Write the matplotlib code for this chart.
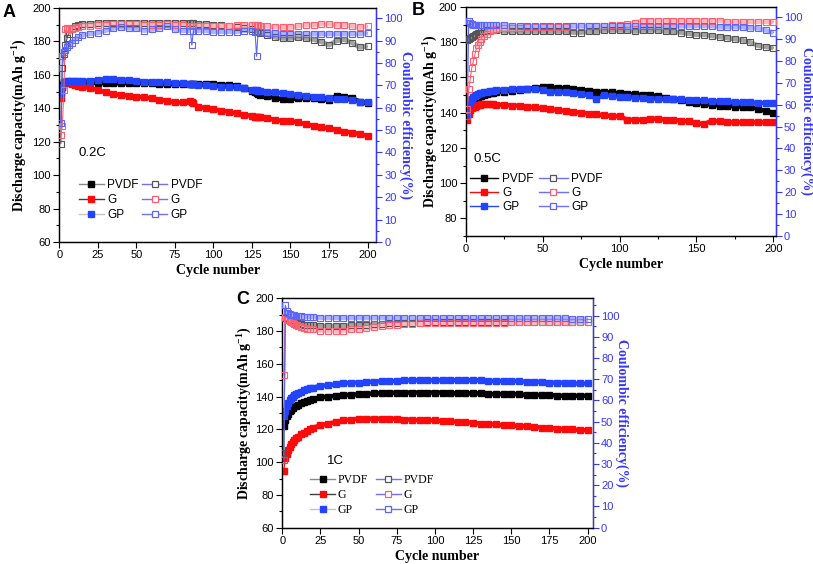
import numpy as np
import matplotlib
matplotlib.use("Agg")
import matplotlib.pyplot as plt
from matplotlib.lines import Line2D
from matplotlib.ticker import MultipleLocator

plt.rcParams["font.family"] = ["Liberation Sans", "DejaVu Sans"]
plt.rcParams["mathtext.fontset"] = "custom"
plt.rcParams["mathtext.rm"] = "Liberation Serif"
plt.rcParams["mathtext.bf"] = "Liberation Serif:bold"
plt.rcParams["mathtext.default"] = "bf"

# %% data, panel A (0.2C)
cyc_a = [1, 2, 3, 4, 5, 6, 8, 10, 12, 15,
         20, 25, 30, 35, 40, 45, 50, 55, 60, 65, 70, 75, 80, 85,
         86, 87,
         90, 95, 100, 105, 110, 115, 120, 125,
         127, 128, 129,
         130, 135, 140, 145, 150, 155, 160, 165, 170, 175, 180, 185, 190, 195, 200]

cap_a_pvdf = [150, 154, 155, 155.5, 155.5, 155.5, 155.5, 155.5, 155.5, 155.5,
              155.5, 155, 155, 155, 155, 155, 155, 155, 155, 154.5, 154.5, 154.5, 154.5, 154.5,
              154.5, 154.5,
              154.5, 154.5, 154.5, 154, 154, 153.5, 152, 150.5,
              149.5, 149, 148.5,
              148, 147.5, 146, 145.5, 145.5, 146, 146, 146, 145.5, 145, 147.5, 147, 146, 144, 143]
cap_a_g = [146, 153, 155.5, 155.5, 155, 155, 154.5, 154, 153.5, 153,
           152, 151, 149.5, 148.5, 148, 147.5, 147, 146.5, 146, 145, 144.5, 143.5, 143.5, 144.5,
           144, 143,
           141, 140, 139.5, 138.5, 138, 137, 136, 135.5,
           135, 135, 135,
           134.5, 134, 133, 132.5, 132.5, 131.5, 130.5, 129.5, 128.5, 128, 127, 126, 125.5, 124.5, 123.5]
cap_a_gp = [149, 153, 155.5, 156, 156.5, 156.5, 156.5, 156.5, 156.5, 156.5,
            156.5, 157, 157.5, 157.5, 157, 157, 156.5, 156, 156, 155.5, 155.5, 155, 155, 154.5,
            154.5, 154.5,
            154, 154, 153.5, 153, 153, 152.5, 152, 151,
            151, 151, 150.5,
            150.5, 150, 149.5, 149, 148.5, 148, 147.5, 147, 146.5, 146, 145.5, 145.5, 145, 144, 143.5]
ce_a_pvdf = [44, 78, 84, 88, 91, 93, 95, 96.5, 97, 97.5,
             97.5, 98, 98, 98, 98, 98, 98, 98, 98, 98, 98, 98, 98, 98,
             98, 98,
             97.5, 97.5, 97, 97, 96.5, 96, 95.5, 95,
             94.5, 94.5, 94,
             93.5, 92.5, 91.5, 91, 91, 91.5, 91, 90.5, 89.5, 88, 90, 90.5, 89, 87, 87.5]
ce_a_g = [48, 52, 68, 95, 95.5, 95.5, 95, 95.5, 96, 96.5,
          96.5, 97, 97, 97.5, 97.5, 97.5, 97.5, 97, 97, 97, 97.5, 97, 97, 96.5,
          96.5, 96.5,
          96.5, 96.5, 96.5, 96.5, 96.5, 97, 97, 97,
          97, 97, 97,
          96.5, 96.5, 96, 96, 96, 96.5, 97, 97, 97.5, 97.5, 97, 97, 96.5, 96, 96.5]
ce_a_gp = [53, 83, 85, 86, 87, 88, 89, 90.5, 91.5, 92.5,
           93, 93.5, 94.5, 95.5, 96, 95.5, 95.5, 94.5, 95, 95.5, 96.5, 95, 94.5, 94.5,
           88, 94.5,
           94.5, 94.5, 94, 94, 94, 94, 94.5, 94.5,
           94, 83, 94,
           94, 93.5, 93.5, 93, 93, 93, 93, 93, 93, 93, 93, 93, 93, 93, 93.5]

# %% data, panels B (0.5C) and C (1C) share the cycle grid
cyc_bc = [1, 2, 3, 4, 5, 6, 7, 8, 9, 10,
          12, 14, 16, 18,
          20, 25, 30, 35, 40, 45, 50, 55, 60, 65, 70, 75, 80, 85, 90, 95,
          100, 105, 110, 115, 120, 125, 130, 135, 140, 145,
          150, 155, 160, 165, 170, 175, 180, 185, 190, 195, 200]

cap_b_pvdf = [143, 145, 146.5, 147, 147.5, 148, 148.5, 149, 149.5, 149.5,
              150, 150.5, 151, 151,
              151.5, 152, 152.5, 153, 153.5, 154, 154.5, 154.5, 154, 154, 153.5, 153, 152.5, 152, 151.5, 151.5,
              151, 150.5, 150.5, 150, 150, 149.5, 148.5, 148, 147, 146,
              145.5, 145, 144.5, 144, 144, 143.5, 143.5, 143.5, 142, 141, 140]
cap_b_g = [136, 139.5, 141.5, 142.5, 143, 143.5, 144, 144.5, 144.5, 145,
           145, 145, 145, 145,
           144.5, 144.5, 144, 144, 143.5, 143, 142.5, 142, 141.5, 141, 140.5, 140, 139.5, 139, 138.5, 138,
           138, 136, 136, 136, 136.5, 136.5, 136, 136, 135.5, 135,
           134, 133.5, 135.5, 135, 134.5, 134.5, 134.5, 134.5, 134.5, 134.5, 134.5]
cap_b_gp = [140, 145, 147, 148, 149, 149.5, 150, 150.5, 151, 151,
            151.5, 152, 152.5, 152.5,
            153, 153, 153.5, 153.5, 153.5, 153.5, 153, 152, 151.5, 151.5, 151, 150.5, 150, 148, 150, 149.5,
            149, 149, 148.5, 148.5, 148, 148, 147.5, 147.5, 147.5, 147,
            147, 147, 146.5, 146.5, 146.5, 146, 146, 146, 145.5, 145.5, 145.5]
ce_b_pvdf = [89.5, 90, 90.5, 91, 91.5, 92, 92.5, 93, 93, 93.5,
             93.5, 94, 94, 94,
             94, 93.5, 93.5, 93.5, 93.5, 93.5, 93.5, 93.5, 93.5, 93.5, 93, 93, 93.5, 93.5, 94, 94,
             94, 94, 93.5, 94, 94, 94, 93.5, 93.5, 93, 92.5,
             92, 92, 91.5, 91, 90.5, 90, 89.5, 88.5, 87, 86.5, 86]
ce_b_g = [58, 67, 72, 77, 80, 83, 86, 87.5, 88.5, 90,
          91.5, 92.5, 93.5, 94,
          94.5, 95, 95, 95, 95.5, 95.5, 95.5, 95.5, 95.5, 95.5, 96, 96, 96, 96, 96, 96.5,
          96.5, 97, 97.5, 98.5, 98.5, 98.5, 98.5, 98.5, 98.5, 98.5,
          98.5, 98.5, 98.5, 98.5, 98, 98, 98, 98, 98, 98, 98]
ce_b_gp = [55, 98.5, 97.5, 97, 96.5, 96.5, 96.5, 96.5, 96.5, 96.5,
           96.5, 96.5, 96.5, 96.5,
           96.5, 96.5, 96, 96, 96, 96, 96, 96, 96, 96, 96, 96, 96, 96, 96, 96,
           96, 96, 96, 96, 96, 96, 96, 96, 96, 96,
           96, 96, 96, 95.5, 95.5, 95.5, 95.5, 95, 95, 94, 93]

cap_c_pvdf = [122, 126, 128, 129.5, 131, 132, 133, 134, 134.5, 135,
              136, 137, 137.5, 138,
              138.5, 139.5, 140, 140.5, 141, 141, 141.5, 141.5, 142, 142, 142, 142.5, 142.5, 142.5, 142.5, 142.5,
              142.5, 142.5, 142, 142, 142, 142, 142, 141.5, 141.5, 141.5,
              141.5, 141.5, 141, 141, 141, 141, 140.5, 140.5, 140.5, 140.5, 140.5]
cap_c_g = [94.5, 102.5, 105, 107.5, 109.5, 111, 112.5, 113.5, 114.5, 115.5,
           117, 118, 119, 120,
           121, 122.5, 123.5, 124.5, 125.5, 126, 126.5, 126.5, 126.5, 126.5, 126.5, 126.5, 126, 126, 125.5, 125.5,
           125.5, 125, 125, 124.5, 124.5, 124, 123.5, 123.5, 123, 122.5,
           122.5, 122, 122, 121.5, 121, 121, 120.5, 120, 120, 119.5, 119.5]
cap_c_gp = [128, 131, 134, 136, 138, 139, 140, 141, 141.5, 142,
            143, 144, 144.5, 145,
            145.5, 146.5, 147, 147.5, 148, 148.5, 148.5, 149, 149, 149.5, 149.5, 149.5, 150, 150, 150, 150,
            150, 150, 150, 150, 150, 150, 150, 149.5, 149.5, 149.5,
            149.5, 149.5, 149, 149, 149, 148.5, 148.5, 148.5, 148, 148, 148]
ce_c_pvdf = [35, 99, 98.5, 98, 98, 97.5, 97, 97, 96.5, 96.5,
             96, 95.5, 95.5, 95.5,
             95.5, 95, 95, 95, 95, 95.5, 95.5, 95.5, 96, 96, 96.5, 96.5, 96.5, 96.5, 96.5, 97,
             97, 97, 97, 97, 97, 97, 97, 97, 97, 97,
             97, 97, 97, 97, 97, 97, 97, 97, 97, 97, 97]
ce_c_g = [72, 99.5, 98.5, 98, 97.5, 97, 96.5, 96, 95.5, 95,
          94.5, 94, 93.5, 93.5,
          93.5, 93, 92.8, 92.8, 93, 93.5, 93.5, 94, 94.5, 95, 95.5, 95.5, 96, 96, 96.5, 96.5,
          96.5, 96.5, 96.5, 96.5, 96.5, 96.5, 96.5, 96.5, 96.5, 96.5,
          97, 97, 97, 97, 97, 97, 97, 97, 97, 97, 97]
ce_c_gp = [32, 105, 102, 101.5, 101, 100.5, 100.5, 100.5, 100, 100,
           100, 99.5, 99.5, 99.5,
           99.5, 99, 99, 99, 99, 99, 99, 99, 99, 99, 99, 99, 99, 99, 99, 99,
           99, 99, 99, 99, 99, 99, 99, 99, 99, 99,
           99, 99, 99, 99, 99, 99, 99, 99, 98.5, 98.5, 98.5]

names = ["PVDF", "G", "GP"]

# %% styles
BLUE_AX = "#3535ff"
cap_color = {"PVDF": "#000000", "G": "#ff0a0a", "GP": "#2244ff"}
ce_edge = {"PVDF": "#555555", "G": "#ff5e70", "GP": "#5c66ff"}
ce_band = {"PVDF": "#a3a3a3", "G": "#ffb8c0", "GP": "#adb3ff"}
serif = ["Liberation Serif", "DejaVu Serif"]
sans = ["Liberation Sans", "DejaVu Sans"]


def band_line(ax, x, y, color, lw, thr=1.6, z=2):
    # thick line only where the curve is smooth; jumps stay as thin lines + markers
    x = np.asarray(x, float)
    y = np.asarray(y, float)
    ok = np.abs(np.diff(y)) / np.diff(x) <= thr
    keep = np.zeros(len(y), bool)
    keep[:-1] |= ok
    keep[1:] |= ok
    ax.plot(x, np.where(keep, y, np.nan), color=color, lw=lw,
            solid_capstyle="butt", zorder=z)


def draw_panel(ax, cycles, caps, ces, xlim, ylim, ylim2, xmajor, xminor,
               rate, rate_xy, leg_xy, leg_kw, leg_lines, leg_font, lab_x):
    ax2 = ax.twinx()
    for nm in names:
        c = cap_color[nm]
        ax.plot(cycles, caps[nm], color=c, lw=0.8, zorder=2)
        band_line(ax, cycles, caps[nm], c, 3.2)
        ax.plot(cycles, caps[nm], ls="none", marker="s", ms=4, color=c,
                mec=c, zorder=3)
    for nm in names:
        ax2.plot(cycles, ces[nm], color=ce_edge[nm], lw=0.8, zorder=2)
        band_line(ax2, cycles, ces[nm], ce_band[nm], 3.4)
        ax2.plot(cycles, ces[nm], ls="none", marker="s", ms=4, mfc="none",
                 mec=ce_edge[nm], mew=0.8, zorder=3)

    ax.set_xlim(*xlim)
    ax.set_ylim(*ylim)
    ax2.set_ylim(*ylim2)
    ax.xaxis.set_major_locator(MultipleLocator(xmajor))
    if xminor:
        ax.xaxis.set_minor_locator(MultipleLocator(xminor))
    ax.yaxis.set_major_locator(MultipleLocator(20))
    ax.yaxis.set_minor_locator(MultipleLocator(10))
    ax2.yaxis.set_major_locator(MultipleLocator(10))
    ax2.yaxis.set_minor_locator(MultipleLocator(5))

    ax.tick_params(axis="both", which="major", direction="out", length=4,
                   width=0.8, labelsize=8, pad=2)
    ax.tick_params(axis="both", which="minor", direction="out", length=2.5,
                   width=0.8)
    ax2.tick_params(axis="y", which="major", direction="out", length=4,
                    width=0.8, labelsize=8, colors=BLUE_AX, pad=2)
    ax2.tick_params(axis="y", which="minor", direction="out", length=2.5,
                    width=0.8, colors=BLUE_AX)
    ax2.spines["right"].set_color(BLUE_AX)
    for sp in ax.spines.values():
        sp.set_linewidth(0.9)
    for sp in ax2.spines.values():
        sp.set_linewidth(0.9)

    ax.set_xlabel("Cycle number", fontsize=10, fontweight="bold",
                  family=serif, labelpad=3)
    ax.set_ylabel(r"Discharge capacity(mAh g$^{-1}$)", fontsize=10,
                  fontweight="bold", family=serif, va="center")
    ax2.set_ylabel("Coulombic efficiency(%)", fontsize=10, fontweight="bold",
                   family=serif, color=BLUE_AX, rotation=270, va="center")
    ax.yaxis.set_label_coords(lab_x[0], 0.5)
    ax2.yaxis.set_label_coords(lab_x[1], 0.5)

    ax.text(rate_xy[0], rate_xy[1], rate, transform=ax.transAxes,
            fontsize=9.5, va="center", ha="left")

    handles = []
    for nm, lc in zip(names, leg_lines[0]):
        handles.append(Line2D([], [], color=lc, lw=1, marker="s", ms=5,
                              mfc=cap_color[nm], mec=cap_color[nm]))
    for nm in names:
        handles.append(Line2D([], [], color=leg_lines[1], lw=1, marker="s",
                              ms=5, mfc="white", mec=ce_edge[nm], mew=0.9))
    ax2.legend(handles, names + names, ncol=2, loc="upper left",
               bbox_to_anchor=leg_xy, frameon=False, borderpad=0,
               borderaxespad=0, prop={"family": leg_font, "size": 8.5},
               **leg_kw)
    return ax2


fig = plt.figure(figsize=(8.13, 5.64), dpi=100)
ax_a = fig.add_axes([0.0729, 0.571, 0.3896, 0.4148])
ax_b = fig.add_axes([0.5728, 0.5816, 0.3813, 0.406])
ax_c = fig.add_axes([0.3472, 0.0644, 0.3818, 0.4067])

draw_panel(ax_a, cyc_a,
           {"PVDF": cap_a_pvdf, "G": cap_a_g, "GP": cap_a_gp},
           {"PVDF": ce_a_pvdf, "G": ce_a_g, "GP": ce_a_gp},
           (0, 205.5), (60, 200), (0, 104.6), 25, None,
           "0.2C", (0.062, 0.38), (0.062, 0.27),
           dict(handlelength=2.1, handletextpad=0.3, columnspacing=0.3,
                labelspacing=0.25),
           (["#8a8a8a", "#404040", "#c4c4c4"], "#7070ff"), sans,
           (-0.124, 1.094))

draw_panel(ax_b, cyc_bc,
           {"PVDF": cap_b_pvdf, "G": cap_b_g, "GP": cap_b_gp},
           {"PVDF": ce_b_pvdf, "G": ce_b_g, "GP": ce_b_gp},
           (0, 201.5), (70, 200), (0, 104.7), 50, 25,
           "0.5C", (0.024, 0.336), (0.014, 0.274),
           dict(handlelength=2.4, handletextpad=0.3, columnspacing=0.5,
                labelspacing=0.18),
           (["#000000", "#ff0a0a", "#2244ff"], "#7070ff"), sans,
           (-0.113, 1.1))

draw_panel(ax_c, cyc_bc,
           {"PVDF": cap_c_pvdf, "G": cap_c_g, "GP": cap_c_gp},
           {"PVDF": ce_c_pvdf, "G": ce_c_g, "GP": ce_c_gp},
           (0, 203.3), (60, 200), (0, 108.2), 25, None,
           "1C", (0.144, 0.291), (0.09, 0.232),
           dict(handlelength=2.1, handletextpad=0.2, columnspacing=0.7,
                labelspacing=0.22),
           (["#8a8a8a", "#404040", "#c4c4c4"], "#7070ff"), serif,
           (-0.12, 1.094))

for lab, x, y in [("A", 0.003, 0.977), ("B", 0.507, 0.981), ("C", 0.291, 0.469)]:
    fig.text(x, y, lab, fontsize=13, fontweight="bold", va="center", ha="left")

fig.savefig("out.png", dpi=100, facecolor="white")
